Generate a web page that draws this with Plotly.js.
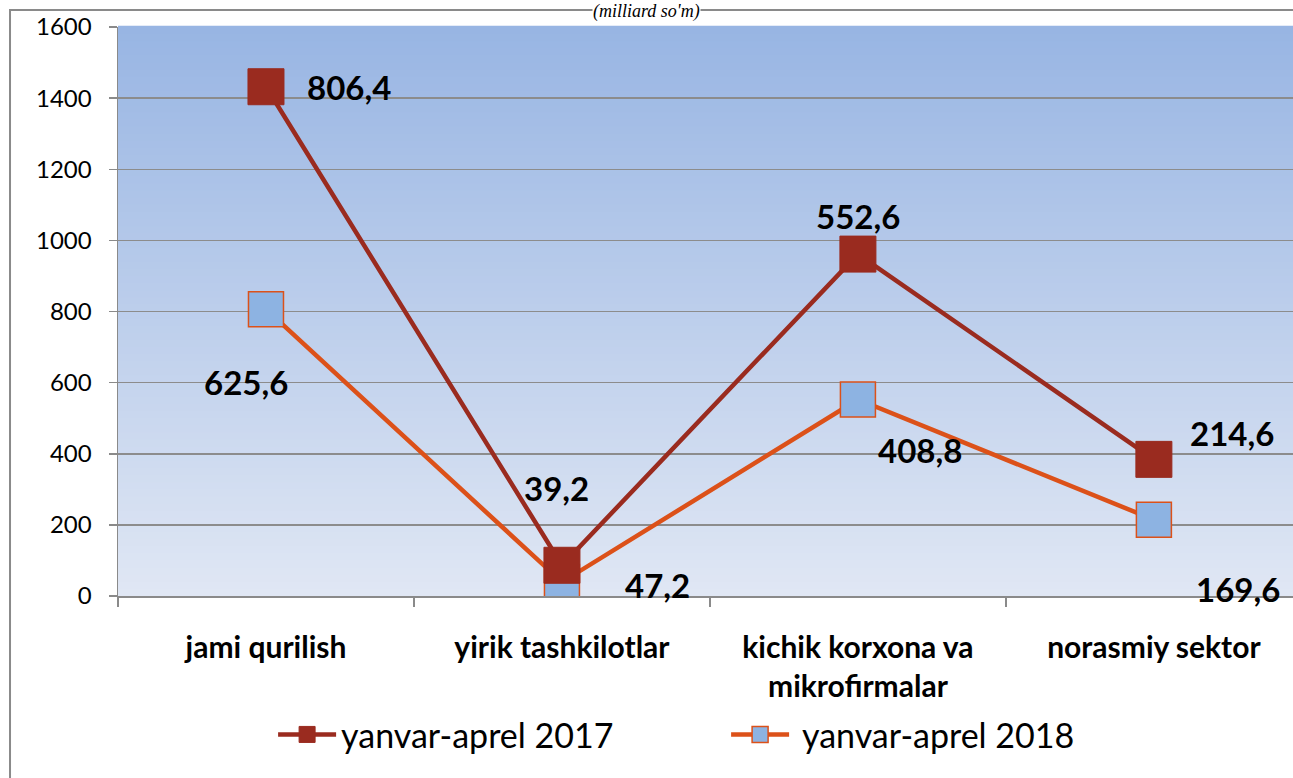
<!DOCTYPE html>
<html>
<head>
<meta charset="utf-8">
<script src="https://cdn.plot.ly/plotly-3.0.1.min.js"></script>
<style>html,body{margin:0;padding:0;background:#fff;}#chart{width:1293px;height:778px;}</style>
</head>
<body>
<div id="chart"></div>
<script>
const categories = ['jami qurilish', 'yirik tashkilotlar', 'kichik korxona va<br>mikrofirmalar', 'norasmiy sektor'];
const values2017 = [806.4, 39.2, 552.6, 214.6];
const values2018 = [625.6, 47.2, 408.8, 169.6];
const labels2017 = ['806,4', '39,2', '552,6', '214,6'];
const labels2018 = ['625,6', '47,2', '408,8', '169,6'];
const yTicks = [0, 200, 400, 600, 800, 1000, 1200, 1400, 1600];
const seriesNames = ['yanvar-aprel 2017', ' yanvar-aprel 2018'];

// stacked line: lower line = first values, upper line = cumulative
const lower = values2017.slice();
const upper = values2017.map((v, i) => v + values2018[i]);

const darkRed = '#9a2b1f';
const orange = '#dc5119';
const lightBlue = '#8db3e2';

const traceBlue = {
  x: categories, y: lower, type: 'scatter', mode: 'lines+markers',
  name: seriesNames[1], legendrank: 2,
  line: {color: orange, width: 4.5},
  marker: {symbol: 'square', size: 35, color: lightBlue, line: {color: orange, width: 1.5}}
};
const traceRed = {
  x: categories, y: upper, type: 'scatter', mode: 'lines+markers',
  name: seriesNames[0], legendrank: 1,
  line: {color: darkRed, width: 4.5},
  marker: {symbol: 'square', size: 36, color: darkRed, line: {color: darkRed, width: 1}}
};

// gradient background strips
const shapes = [];
const N = 80;
const gradTop = [152, 181, 227], gradBot = [224, 231, 244];
for (let i = 0; i < N; i++) {
  const t = (i + 0.5) / N;
  const c = gradTop.map((a, k) => Math.round(gradBot[k] + (a - gradBot[k]) * t));
  shapes.push({type: 'rect', xref: 'paper', yref: 'paper', x0: 0, x1: 1, y0: i / N, y1: (i + 1) / N + 0.002,
    fillcolor: `rgb(${c[0]},${c[1]},${c[2]})`, line: {width: 0}, layer: 'below'});
}
// outer chart frame
shapes.push({type: 'rect', xref: 'paper', yref: 'paper', x0: -0.0919, x1: 1.2, y0: -0.5, y1: 1.0299,
  line: {color: '#8a8a8a', width: 2}, fillcolor: 'rgba(0,0,0,0)', layer: 'below'});

const labelFont = {family: 'Lato, "Open Sans", sans-serif', size: 33, color: '#000', weight: 'bold'};
const off2017 = [[83, 0], [-5, 77], [0, 38], [78, 26]];
const off2018 = [[-20, -73], [96, -3], [62, -51], [84, -69]];
const annotations = [];
categories.forEach((c, i) => {
  annotations.push({x: c, y: upper[i], xref: 'x', yref: 'y', text: '<b>' + labels2017[i] + '</b>', showarrow: false,
    xshift: off2017[i][0], yshift: off2017[i][1], font: labelFont});
  annotations.push({x: c, y: lower[i], xref: 'x', yref: 'y', text: '<b>' + labels2018[i] + '</b>', showarrow: false,
    xshift: off2018[i][0], yshift: off2018[i][1], font: labelFont});
});
annotations.push({x: 0.45, y: 1.0, xref: 'paper', yref: 'paper', yanchor: 'top', yshift: 27,
  text: "<i>(milliard so'm)</i>", showarrow: false, borderpad: 0, bgcolor: '#ffffff',
  font: {family: '"Liberation Serif", "DejaVu Serif", serif', size: 18, color: '#000'}});

const layout = {
  width: 1293, height: 778,
  margin: {l: 118, r: 0, t: 27, b: 182},
  paper_bgcolor: '#ffffff', plot_bgcolor: 'rgba(0,0,0,0)',
  showlegend: true,
  legend: {orientation: 'h', x: 0.132, xanchor: 'left', y: -0.244, yanchor: 'middle', entrywidth: 380,
    font: {family: 'Lato, "Open Sans", sans-serif', size: 34, color: '#000'}, itemwidth: 58, bgcolor: 'rgba(0,0,0,0)'},
  xaxis: {type: 'category', range: [-0.5, 3.47], tickson: 'boundaries', ticks: 'outside', ticklen: 9,
    tickcolor: '#8a8a8a', tickwidth: 1.5, showline: true, linecolor: '#8a8a8a', linewidth: 1.5,
    showgrid: false, ticklabelstandoff: 24,
    tickfont: {family: 'Lato, "Open Sans", sans-serif', size: 30, color: '#000', weight: 'bold'}},
  yaxis: {range: [0, 1600], tickvals: yTicks, ticktext: yTicks.map(String), ticks: 'outside', ticklen: 8,
    tickcolor: '#8a8a8a', tickwidth: 1.5, showline: true, linecolor: '#8a8a8a', linewidth: 1.5,
    showgrid: true, gridcolor: '#8c8c8c', gridwidth: 1.5, zeroline: false, ticklabelstandoff: 12,
    tickfont: {family: 'Lato, "Open Sans", sans-serif', size: 24, color: '#000'}},
  shapes: shapes,
  annotations: annotations
};

Plotly.newPlot('chart', [traceBlue, traceRed], layout, {displayModeBar: false, staticPlot: true});
</script>
</body>
</html>
